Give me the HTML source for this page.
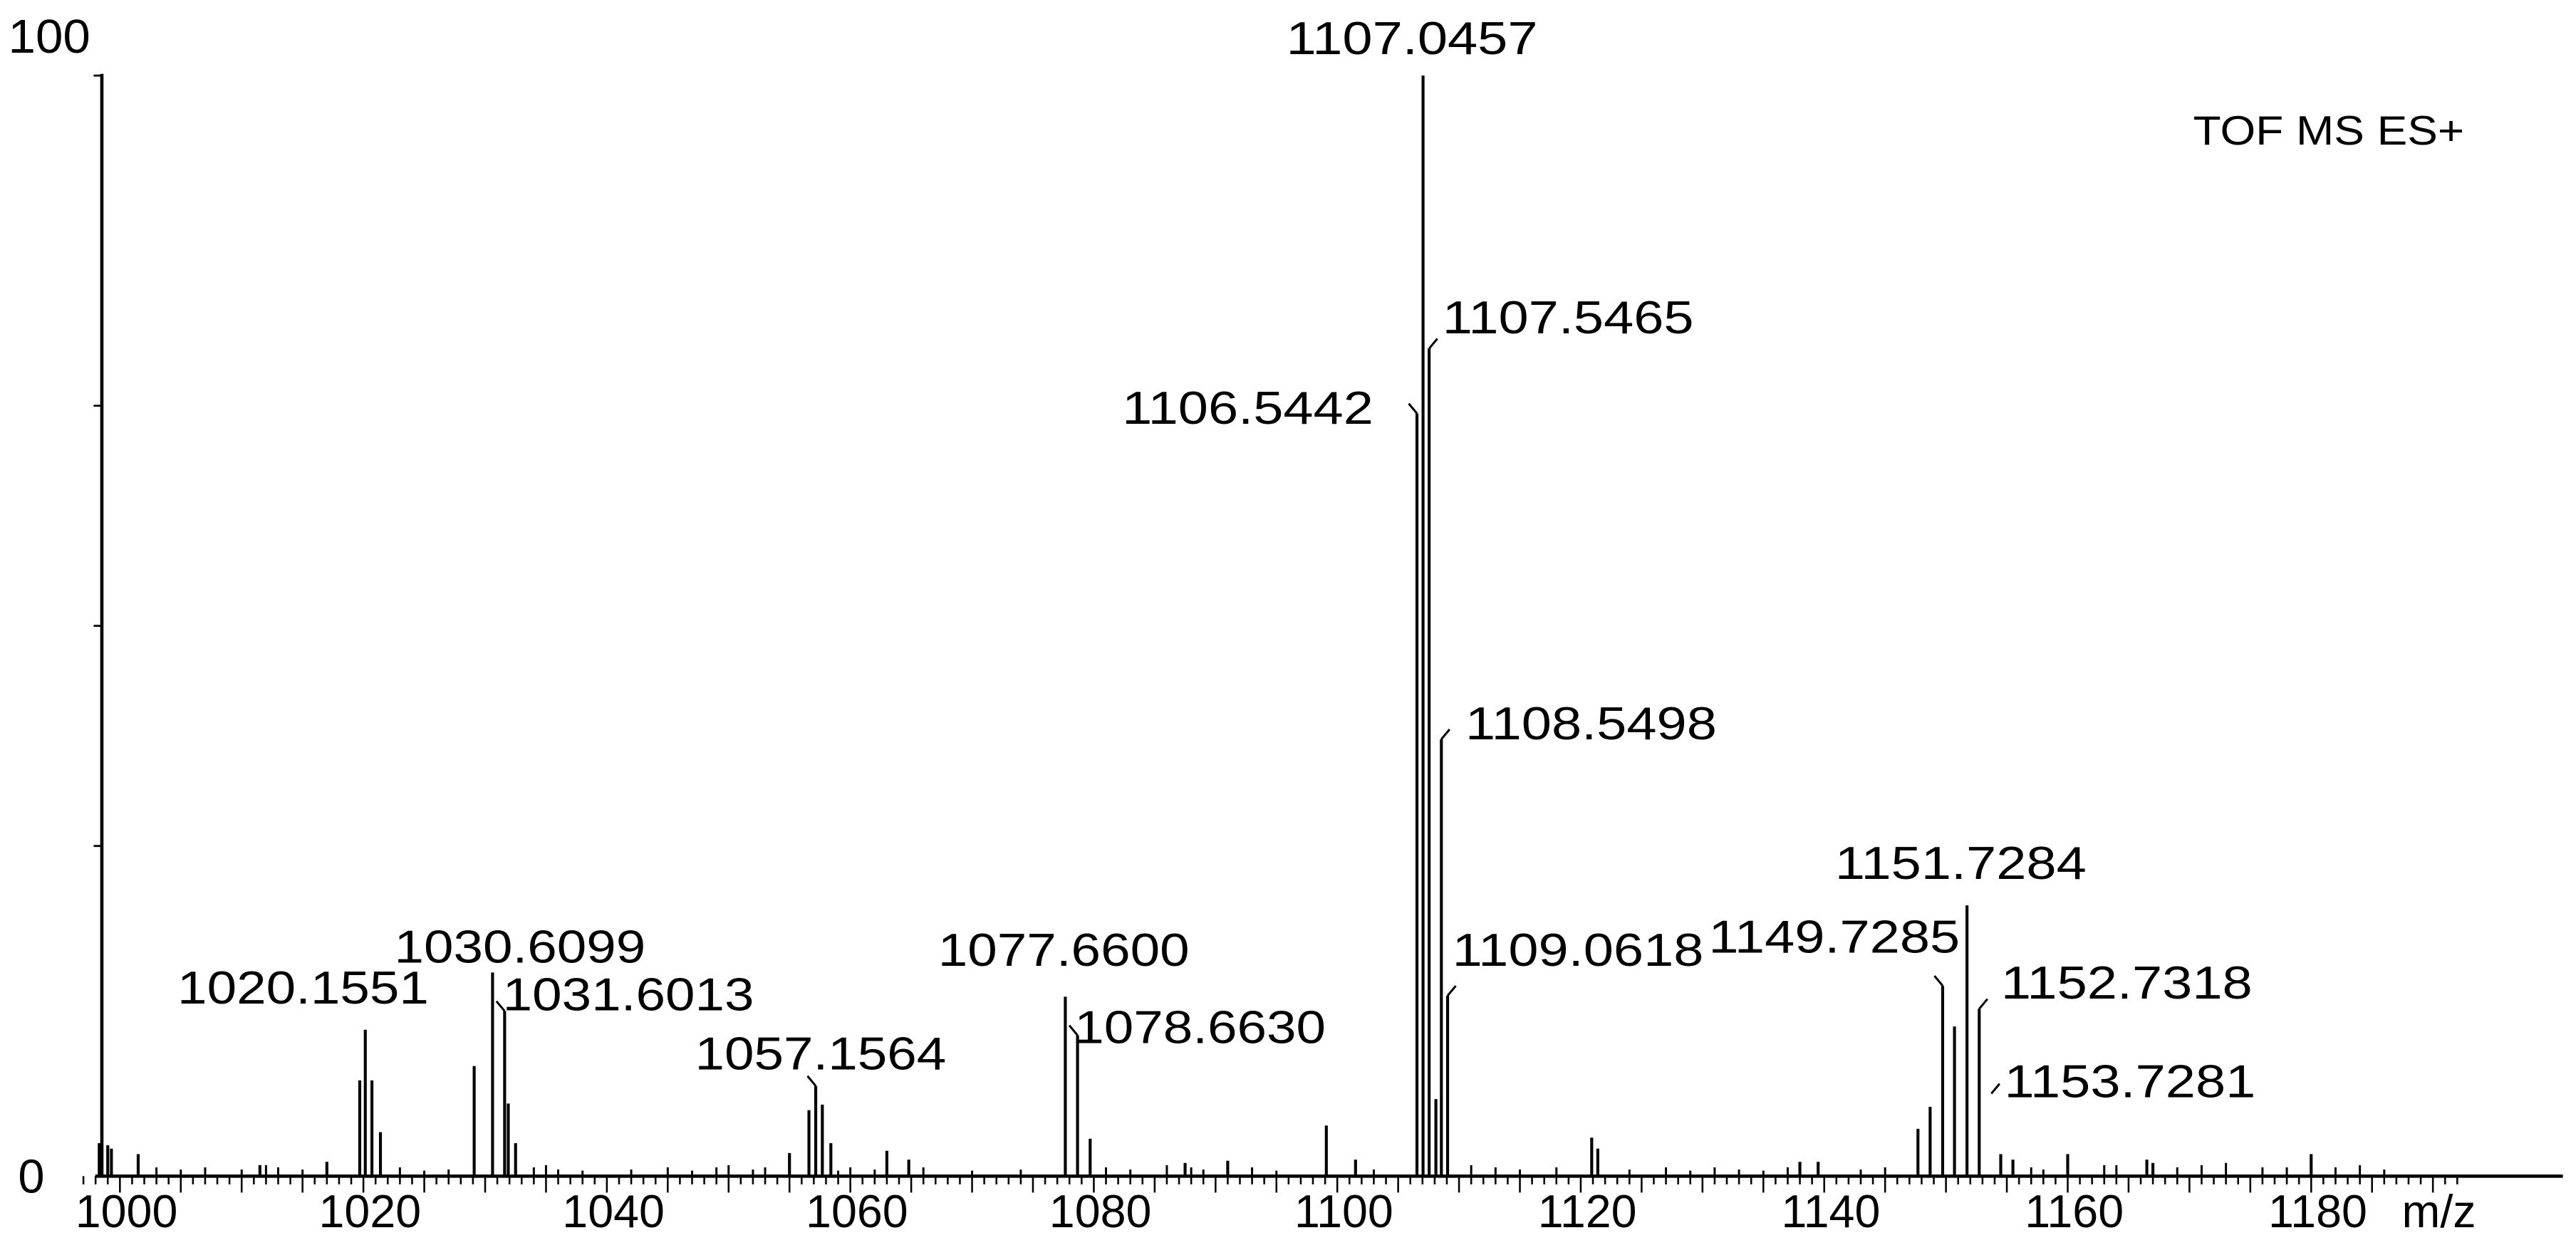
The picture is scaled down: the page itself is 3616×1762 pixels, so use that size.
<!DOCTYPE html>
<html><head><meta charset="utf-8"><style>
html,body{margin:0;padding:0;background:#fff;}
svg{display:block;}
text{font-family:"Liberation Sans","DejaVu Sans",sans-serif;fill:#000;}
</style></head><body>
<svg id="chart" width="3616" height="1762" viewBox="0 0 1568 764" preserveAspectRatio="none" xmlns="http://www.w3.org/2000/svg">
<g id="axes"></g>
<g id="peaks"></g>
<g id="labels"></g>
<text x="1335" y="88" font-size="25" textLength="165" lengthAdjust="spacingAndGlyphs">TOF MS ES+</text>
<text x="5" y="32" font-size="29" textLength="50" lengthAdjust="spacingAndGlyphs">100</text>
<text x="11" y="726" font-size="29">0</text>
<text x="1462" y="747" font-size="28">m/z</text>
</svg>
<script>
const xTicks = [1000,1020,1040,1060,1080,1100,1120,1140,1160,1180];
const yTicks = [30,50,70,100];
const peakMz = [1107.0457,1107.5465,1106.5442,1108.5498,1109.0618,1108.1,1030.6099,1031.6013,1029.1,1031.9,1032.5,1020.1551,1019.7,1020.7,1021.4,1057.1564,1056.6,1057.7,1058.4,1077.66,1078.663,1079.7,1099.1,1147.7,1148.7,1149.7285,1150.7,1151.7284,1152.7318,1120.9,1121.4,1160.0,1180.0,998.3,999.3,999.0,1001.5,1063,1064.8,1101.5,1166.5,1167,1154.5,1155.5,1138,1139.5,1055.0,1017,1011.5,1087.5,1091];
const peakInt = [100,75.2,69.3,39.7,16.4,7,18.5,15,10,6.6,3,13.3,8.7,8.7,4,8.2,6,6.5,3,16.3,12.8,3.4,4.6,4.3,6.3,17.3,13.6,24.6,15.2,3.5,2.5,2,2,3,2.5,2.8,2,2.3,1.5,1.5,1.5,1.2,2,1.5,1.3,1.3,2.1,1.3,1,1.2,1.4];
const noiseMz = [1003,1005,1007,1010,1012,1013,1015,1023,1025,1027,1034,1035,1036,1038,1042,1045,1047,1049,1050,1052,1053,1059,1060,1062,1066,1070,1074,1081,1083,1086,1088,1089,1093,1095,1103,1111,1113,1115,1118,1124,1127,1129,1131,1133,1135,1137,1143,1145,1157,1158,1163,1164,1169,1171,1173,1176,1178,1182,1184,1186];
const noiseInt = [0.8,0.6,0.8,0.6,1,0.8,0.6,0.8,0.5,0.6,0.8,1,0.6,0.5,0.6,0.8,0.5,0.8,1,0.6,0.8,0.5,0.8,0.6,0.8,0.5,0.6,0.8,0.6,1,0.8,0.6,0.8,0.5,0.6,1,0.8,0.6,0.8,0.6,0.8,0.5,0.8,0.6,0.5,0.8,0.6,0.8,0.8,0.6,1,1,0.8,1,1.2,0.8,0.8,0.8,1,0.6];
const labelText = ["1107.0457","1107.5465","1106.5442","1108.5498","1109.0618","1149.7285","1151.7284","1152.7318","1153.7281","1030.6099","1031.6013","1020.1551","1057.1564","1077.6600","1078.6630"];
const labelMz = [1107.0457,1107.5465,1106.5442,1108.5498,1109.0618,1149.7285,1151.7284,1152.7318,1153.7281,1030.6099,1031.6013,1020.1551,1057.1564,1077.66,1078.663];
const labelInt = [100,75.2,69.3,39.7,16.4,17.3,24.6,15.2,7.5,18.5,15,13.3,8.2,16.3,12.8];

const NS="http://www.w3.org/2000/svg";
const X0=73, SLOPE=7.41, Y0=716, YH=670;
function xs(v){return X0+(v-1000)*SLOPE;}
function ys(v){return Y0-v/100*YH;}
function mk(tag,attrs,parent){const e=document.createElementNS(NS,tag);for(const k in attrs)e.setAttribute(k,attrs[k]);parent.appendChild(e);return e;}
const axes=document.getElementById('axes'),pk=document.getElementById('peaks'),lb=document.getElementById('labels');

let yl=mk('line',{x1:62,y1:45,x2:62,y2:Y0,stroke:'#000','stroke-width':2},axes);


let xl=mk('line',{x1:58,y1:Y0,x2:1560,y2:Y0,stroke:'#000','stroke-width':2},axes);


yTicks.forEach(p=>{
  let t=mk('line',{x1:57,y1:ys(p),x2:62,y2:ys(p),stroke:'#000','stroke-width':1.2},axes);
  
  
});
for(let m=997;m<=1192;m++){
  const len=(m%5===0)?10:5;
  let t=mk('line',{x1:xs(m),y1:Y0,x2:xs(m),y2:Y0+len,stroke:'#000','stroke-width':1.1},axes);
  
  
}
xTicks.forEach(v=>{
  let t=mk('text',{x:xs(v)+4,y:747,'font-size':28,'text-anchor':'middle'},axes);
  t.textContent=v;
  
  
});
noiseMz.forEach((m,i)=>{
  let l=mk('line',{x1:xs(m),y1:Y0,x2:xs(m),y2:ys(noiseInt[i]),stroke:'#000','stroke-width':1.3},pk);
  
  
});
peakMz.forEach((m,i)=>{
  let l=mk('line',{x1:xs(m),y1:Y0,x2:xs(m),y2:ys(peakInt[i]),stroke:'#000','stroke-width':1.8},pk);
  
  
});
const lpos=[[783,33],[878,203],[683,258],[892,450],[884,588],[1040,580],[1117,535],[1218,608],[1220,668],[240,586],[306,615],[108,611],[423,651],[571,588],[654,635]];
labelText.forEach((s,i)=>{
  let t=mk('text',{x:lpos[i][0],y:lpos[i][1],'font-size':28,textLength:153,lengthAdjust:'spacingAndGlyphs'},lb);
  t.textContent=s;
  
  
  if(i!==0 && i!==6 && i!==9 && i!==11 && i!==13){
    const px=xs(labelMz[i]), py=ys(labelInt[i]);
    const dir = lpos[i][0] > px ? 1 : -1;
    let ld=mk('line',{x1:px,y1:py,x2:px+dir*5,y2:py-6,stroke:'#000','stroke-width':1.3},lb);
    
    
  }
});
</script>
</body></html>
